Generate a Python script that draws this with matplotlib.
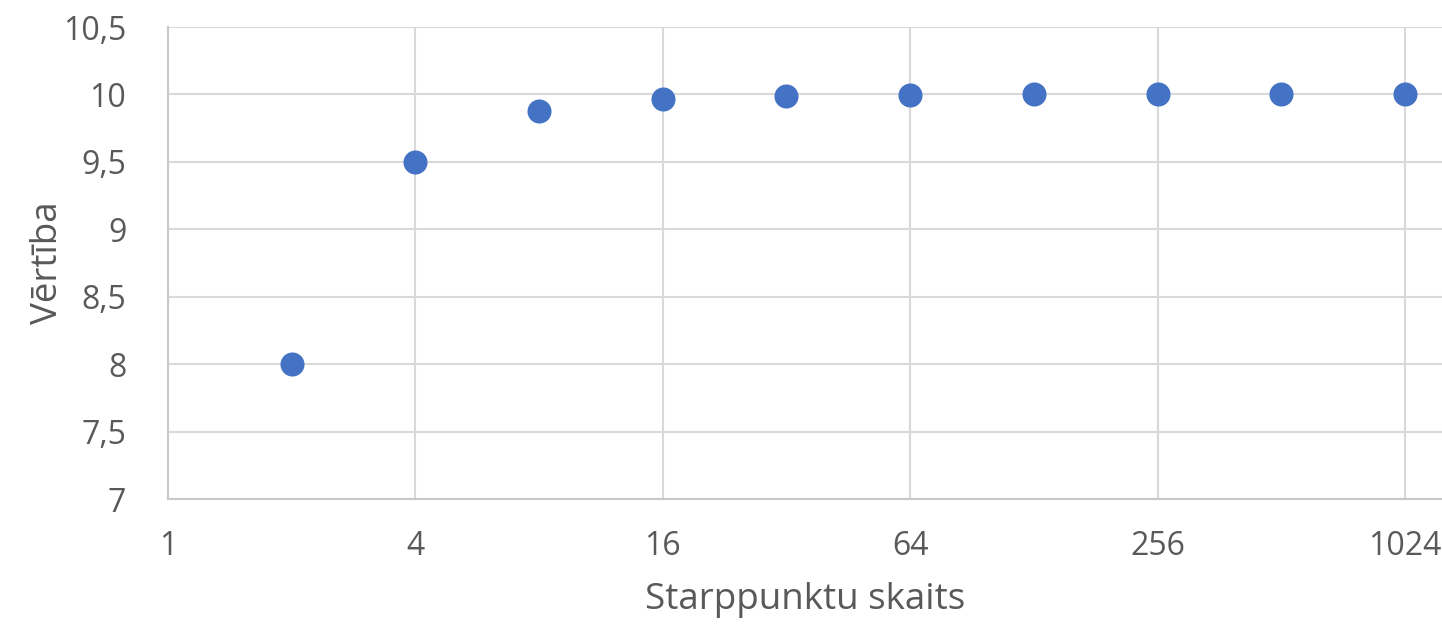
import numpy as np
import matplotlib.pyplot as plt

# data
x_vals = [2, 4, 8, 16, 32, 64, 128, 256, 512, 1024]
y_vals = [8.0, 9.5, 9.875, 9.969, 9.992, 9.998, 10.0, 10.0, 10.0, 10.0]
x_ticks = [1, 4, 16, 64, 256, 1024]
y_ticks = [7, 7.5, 8, 8.5, 9, 9.5, 10, 10.5]

plt.rcParams['font.family'] = ['Open Sans', 'DejaVu Sans']
txt = '#595959'
grid = '#d9d9d9'

fig = plt.figure(figsize=(14.42, 6.25), dpi=100)
ax = fig.add_axes([168/1442, 1 - 499/625, 1 - 168/1442, (499 - 27)/625])

ax.scatter(x_vals, y_vals, s=300, color='#4472C4', zorder=3, linewidths=0)

ax.set_xscale('log', base=2)
ax.set_xlim(1, 2 ** 10.3)
ax.set_ylim(7, 10.5)
ax.set_xticks(x_ticks)
ax.set_xticklabels([str(t) for t in x_ticks])
ax.set_yticks(y_ticks)
ax.set_yticklabels([('%g' % t).replace('.', ',') for t in y_ticks])
ax.minorticks_off()

ax.grid(True, color=grid, linewidth=1.5, zorder=0)
for s in ['top', 'right']:
    ax.spines[s].set_visible(False)
for s in ['left', 'bottom']:
    ax.spines[s].set_color('#c8c8c8')
    ax.spines[s].set_linewidth(1.5)

ax.tick_params(length=0, labelsize=23, colors=txt, pad=22)
ax.tick_params(axis='y', pad=30)

ax.set_xlabel('Starppunktu skaits', fontsize=26.5, color=txt, labelpad=14)
ax.set_ylabel('Vērtība', fontsize=26.5, color=txt, labelpad=-2)

fig.savefig('out.png', dpi=100)
